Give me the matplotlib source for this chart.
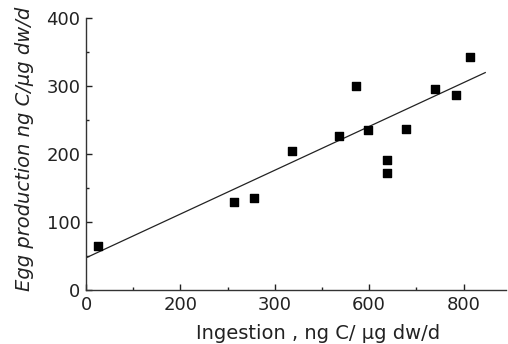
import matplotlib
matplotlib.use("Agg")
import matplotlib.pyplot as plt
import numpy as np

ingestion = [25, 313, 357, 436, 537, 572, 598, 638, 638, 678, 739, 784, 814]
egg_prod = [65, 129, 135, 205, 226, 300, 236, 191, 172, 237, 296, 287, 343]
fit_intercept = 47.3
fit_slope = 0.322
fit_x = [0, 846]
x_ticks = [0, 200, 400, 600, 800]
x_tick_labels = ["0", "200", "300", "600", "800"]
y_ticks = [0, 100, 200, 300, 400]
y_tick_labels = ["0", "100", "200", "300", "400"]

plt.rcParams['font.family'] = ['DejaVu Sans']
fig = plt.figure(figsize=(5.08, 3.44), dpi=100)
ax = fig.add_axes([86/508, 54/344, 420/508, 272/344])

ax.scatter(ingestion, egg_prod, marker='s', s=28, color='black', zorder=3)
fx = np.array(fit_x, dtype=float)
ax.plot(fx, fit_intercept + fit_slope * fx, color='#222222', lw=0.9)

ax.set_xlim(0, 890)
ax.set_ylim(0, 400)
ax.spines['top'].set_visible(False)
ax.spines['right'].set_visible(False)
for s in ['left', 'bottom']:
    ax.spines[s].set_linewidth(1.0)
    ax.spines[s].set_color('#333333')
ax.spines['left'].set_bounds(0, 400)

ax.set_xticks(x_ticks)
ax.set_xticklabels(x_tick_labels)
ax.set_xticks([100, 300, 500, 700], minor=True)
ax.set_yticks(y_ticks)
ax.set_yticklabels(y_tick_labels)
ax.set_yticks([50, 150, 250, 350], minor=True)
ax.tick_params(which='major', direction='in', length=4, width=1, labelsize=13, pad=4, colors='#222222')
ax.tick_params(which='minor', direction='in', length=2.5, width=1, colors='#222222')

ax.set_xlabel("Ingestion , ng C/ µg dw/d", fontsize=14, color='#222222')
ax.xaxis.set_label_coords(0.552, -0.125)
ax.set_ylabel("Egg production ng C/µg dw/d", fontsize=14, style='italic', color='#222222')
ax.yaxis.set_label_coords(-0.124, 0.52)

fig.savefig("out.png", dpi=100)
